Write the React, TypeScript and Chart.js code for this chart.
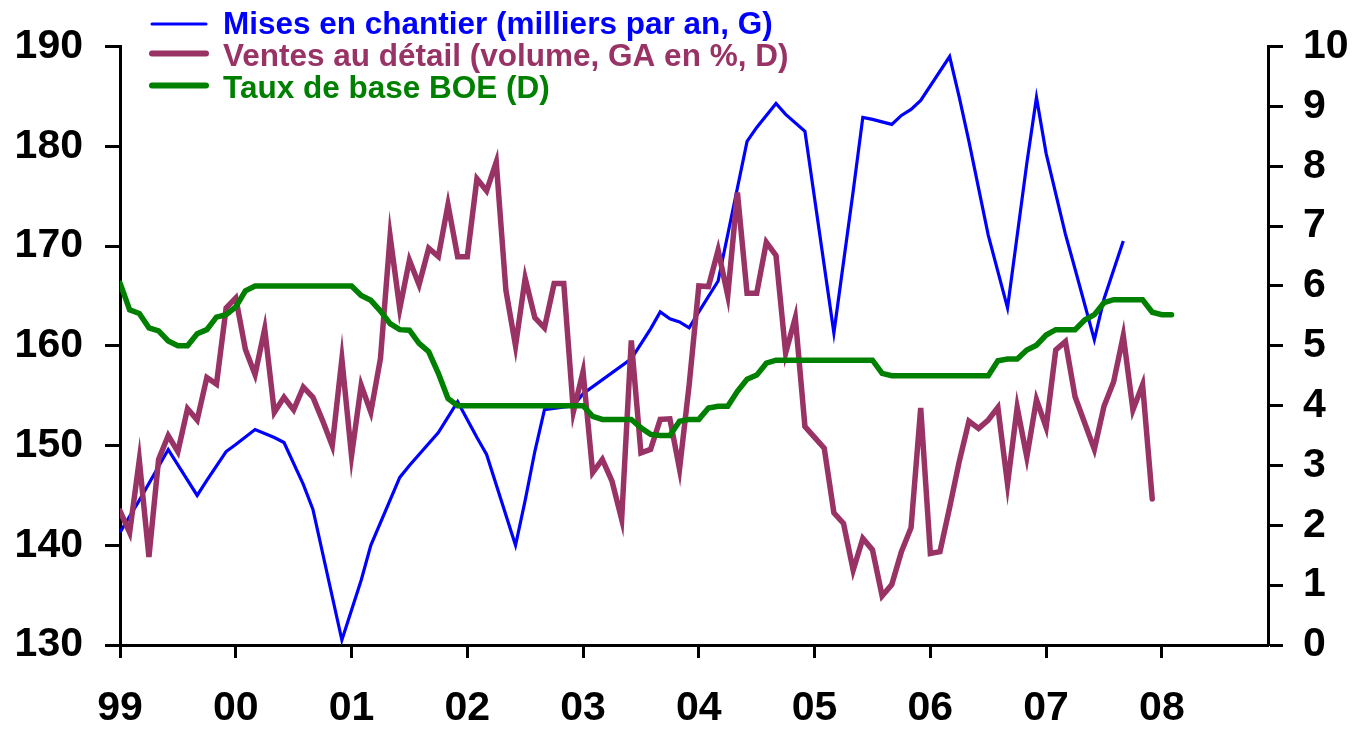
import React, { useEffect, useRef } from 'react';
import Chart from 'chart.js/auto';

// X axis: months since Jan 1999 (linear scale), year tick labels
const yearLabels = ['99', '00', '01', '02', '03', '04', '05', '06', '07', '08'];
const yearTickMonths = [0, 12, 24, 36, 48, 60, 72, 84, 96, 108];
const xMaxMonth = 119;

// Mises en chantier (milliers par an, G) – left axis
const startsMonths = [
  0, 2, 5, 8, 9, 11, 12, 14, 16, 17, 19, 20, 23, 25, 26, 29, 30, 33, 35, 37,
  38, 41, 42, 43, 44, 47, 48, 53, 55, 56, 57, 58, 59, 60, 62, 65, 66, 68, 69, 71,
  74, 76, 77, 78, 80, 81, 82, 83, 86, 87, 88, 90, 92, 94, 95, 96, 98, 99, 101, 102, 104,
];
const startsValues = [
  141.3, 144.5, 149.6, 145.0, 146.5, 149.4, 150.1, 151.6, 150.8, 150.3, 146.1, 143.6, 130.5, 136.5, 140.0, 146.8, 148.0, 151.3, 154.4, 150.8,
  149.1, 140.0, 144.5, 149.4, 153.6, 154.0, 155.2, 158.7, 161.7, 163.4, 162.7, 162.4, 161.8, 163.4, 166.5, 180.5, 181.9, 184.3, 183.2, 181.5,
  161.3, 175.5, 182.9, 182.7, 182.2, 183.1, 183.7, 184.6, 189.0, 184.9, 180.5, 171.1, 163.8, 178.3, 184.9, 179.3, 171.2, 167.7, 160.6, 164.7, 170.5,
];

// Ventes au détail (volume, GA en %, D) – right axis, monthly from Jan 1999
const salesValues = [
  2.24, 1.88, 3.09, 1.47, 3.10, 3.50, 3.23, 3.95, 3.76, 4.47,
  4.36, 5.63, 5.80, 4.94, 4.52, 5.28, 3.89, 4.14, 3.93, 4.31,
  4.14, 3.75, 3.33, 4.78, 3.16, 4.34, 3.89, 4.79, 6.83, 5.62,
  6.43, 6.02, 6.63, 6.49, 7.36, 6.49, 6.49, 7.79, 7.59, 8.07,
  5.93, 5.00, 6.13, 5.47, 5.30, 6.04, 6.04, 3.90, 4.57, 2.88,
  3.10, 2.74, 2.10, 5.09, 3.21, 3.27, 3.77, 3.78, 2.94, 4.35,
  6.00, 5.99, 6.60, 5.84, 7.56, 5.88, 5.88, 6.73, 6.51, 4.88,
  5.47, 3.65, 3.47, 3.29, 2.21, 2.03, 1.25, 1.78, 1.59, 0.82,
  1.01, 1.56, 1.96, 3.96, 1.53, 1.56, 2.30, 3.07, 3.74, 3.62,
  3.76, 3.97, 2.69, 3.97, 3.14, 4.10, 3.64, 4.93, 5.07, 4.15,
  3.71, 3.27, 3.99, 4.40, 5.17, 3.93, 4.35, 2.44,
];

// Taux de base BOE (D) – right axis, monthly from Jan 1999
const boeValues = [
  6.05, 5.60, 5.54, 5.30, 5.25, 5.08, 5.00, 5.00, 5.20, 5.27,
  5.48, 5.52, 5.65, 5.92, 6.00, 6.00, 6.00, 6.00, 6.00, 6.00,
  6.00, 6.00, 6.00, 6.00, 6.00, 5.84, 5.76, 5.58, 5.37, 5.27,
  5.26, 5.04, 4.90, 4.54, 4.12, 4.00, 4.00, 4.00, 4.00, 4.00,
  4.00, 4.00, 4.00, 4.00, 4.00, 4.00, 4.00, 4.00, 4.00, 3.82,
  3.77, 3.77, 3.77, 3.77, 3.63, 3.52, 3.50, 3.50, 3.74, 3.77,
  3.77, 3.96, 3.99, 3.99, 4.24, 4.44, 4.51, 4.71, 4.76, 4.76,
  4.76, 4.76, 4.76, 4.76, 4.76, 4.76, 4.76, 4.76, 4.76, 4.54,
  4.50, 4.50, 4.50, 4.50, 4.50, 4.50, 4.50, 4.50, 4.50, 4.50,
  4.50, 4.75, 4.78, 4.78, 4.93, 5.01, 5.18, 5.27, 5.27, 5.27,
  5.43, 5.52, 5.72, 5.77, 5.77, 5.77, 5.77, 5.56, 5.52, 5.52,
];

const seriesNames = [
  'Mises en chantier (milliers par an, G)',
  'Ventes au détail (volume, GA en %, D)',
  'Taux de base BOE (D)',
];
const seriesColors = ['#0000FF', '#993366', '#008000'];

const FONT = '"Liberation Sans", Arial, Helvetica, sans-serif';

export default function App() {
  const ref = useRef<HTMLCanvasElement>(null);

  useEffect(() => {
    if (!ref.current) return;

    const legendPlugin = {
      id: 'customLegend',
      afterDraw(chart: any) {
        const ctx = chart.ctx;
        ctx.save();
        const lineY = [24, 53.5, 85.5];
        const baseY = [33.5, 65.5, 97.5];
        const widths = [3, 6, 6];
        seriesNames.forEach((name, i) => {
          ctx.strokeStyle = seriesColors[i];
          ctx.lineWidth = widths[i];
          ctx.lineCap = 'round';
          ctx.beginPath();
          ctx.moveTo(152, lineY[i]);
          ctx.lineTo(206, lineY[i]);
          ctx.stroke();
          ctx.fillStyle = seriesColors[i];
          ctx.font = `bold 31.5px ${FONT}`;
          ctx.textAlign = 'left';
          ctx.textBaseline = 'alphabetic';
          ctx.fillText(name, 223, baseY[i]);
        });
        ctx.restore();
      },
    };

    const chart = new Chart(ref.current, {
      type: 'line',
      data: {
        datasets: [
          {
            label: seriesNames[0],
            data: startsMonths.map((m, i) => ({ x: m, y: startsValues[i] })),
            yAxisID: 'y',
            borderColor: seriesColors[0],
            borderWidth: 3.2,
            pointRadius: 0,
            tension: 0,
            order: 3,
          },
          {
            label: seriesNames[1],
            data: salesValues.map((v, i) => ({ x: i, y: v })),
            yAxisID: 'y1',
            borderColor: seriesColors[1],
            borderWidth: 5.5,
            borderCapStyle: 'round',
            pointRadius: 0,
            tension: 0,
            order: 2,
          },
          {
            label: seriesNames[2],
            data: boeValues.map((v, i) => ({ x: i, y: v })),
            yAxisID: 'y1',
            borderColor: seriesColors[2],
            borderWidth: 5.5,
            borderCapStyle: 'round',
            pointRadius: 0,
            tension: 0,
            order: 1,
          },
        ],
      },
      options: {
        responsive: false,
        animation: false,
        devicePixelRatio: 1,
        layout: { padding: { top: 43, left: 0, right: 0, bottom: 0 } },
        plugins: {
          legend: { display: false },
          tooltip: { enabled: false },
        },
        scales: {
          x: {
            type: 'linear',
            min: 0,
            max: xMaxMonth,
            afterBuildTicks: (scale: any) => {
              scale.ticks = yearTickMonths.map((v) => ({ value: v }));
            },
            afterFit: (scale: any) => {
              scale.height = 86;
            },
            ticks: {
              autoSkip: false,
              maxRotation: 0,
              padding: 26,
              color: '#000',
              font: { family: FONT, size: 41, weight: 'bold' },
              callback: (v: any) => {
                const idx = yearTickMonths.indexOf(Number(v));
                return idx >= 0 ? yearLabels[idx] : '';
              },
            },
            grid: {
              drawOnChartArea: false,
              drawTicks: true,
              tickLength: 13,
              tickWidth: 3,
              tickColor: '#000',
            },
            border: { display: true, color: '#000', width: 3 },
          },
          y: {
            type: 'linear',
            position: 'left',
            min: 130,
            max: 190,
            afterFit: (scale: any) => {
              scale.width = 120;
            },
            ticks: {
              stepSize: 10,
              padding: 22,
              color: '#000',
              font: { family: FONT, size: 41, weight: 'bold' },
            },
            grid: {
              drawOnChartArea: false,
              drawTicks: true,
              tickLength: 15,
              tickWidth: 3,
              tickColor: '#000',
            },
            border: { display: true, color: '#000', width: 3 },
          },
          y1: {
            type: 'linear',
            position: 'right',
            min: 0,
            max: 10,
            afterFit: (scale: any) => {
              scale.width = 86;
            },
            ticks: {
              stepSize: 1,
              padding: 20,
              color: '#000',
              font: { family: FONT, size: 41, weight: 'bold' },
            },
            grid: {
              drawOnChartArea: false,
              drawTicks: true,
              tickLength: 15,
              tickWidth: 3,
              tickColor: '#000',
            },
            border: { display: true, color: '#000', width: 3 },
          },
        },
      },
      plugins: [legendPlugin],
    } as any);

    return () => chart.destroy();
  }, []);

  return (
    <div style={{ position: 'fixed', left: 0, top: 0, width: 1354, height: 731, background: '#fff' }}>
      <canvas ref={ref} width={1354} height={731} style={{ display: 'block', width: 1354, height: 731 }} />
    </div>
  );
}
